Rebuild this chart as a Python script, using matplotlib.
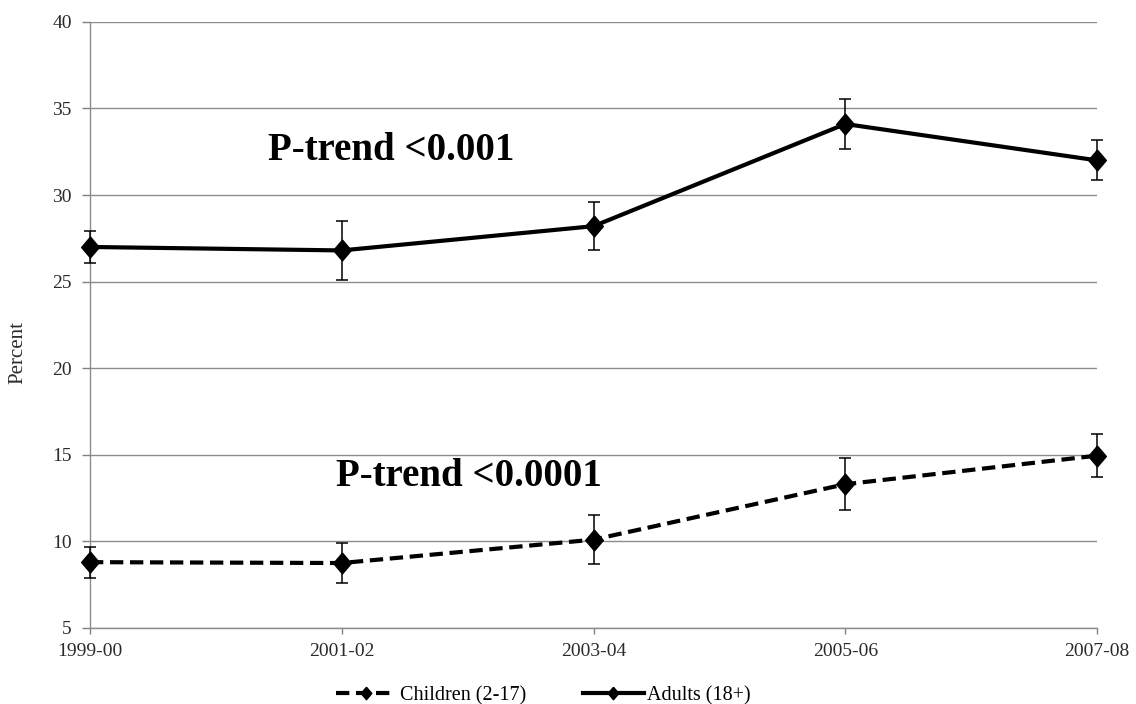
import matplotlib.pyplot as plt
from matplotlib.lines import Line2D
import numpy as np

periodos = ['1999-00', '2001-02', '2003-04', '2005-06', '2007-08']
adultos = [27.0, 26.8, 28.2, 34.1, 32.0]
adultos_err = [0.95, 1.7, 1.4, 1.45, 1.15]
criancas = [8.8, 8.75, 10.1, 13.3, 14.95]
criancas_err = [0.9, 1.15, 1.4, 1.5, 1.25]

plt.rcParams['font.family'] = ['Liberation Serif', 'DejaVu Serif']

fig = plt.figure(figsize=(11.36, 7.04), dpi=100)
ax = fig.add_axes([0.0792, 0.108, 0.8865, 0.861])

x = np.arange(len(periodos))
tracejado = (0, (3.2, 1.6))
# losango um pouco mais alto que largo
losango = [(0, 1), (0.85, 0), (0, -1), (-0.85, 0), (0, 1)]

ax.errorbar(x, criancas, yerr=criancas_err, color='black', linestyle=tracejado,
            linewidth=3, marker=losango, markersize=15, ecolor='black', elinewidth=1.1,
            capsize=4.5, capthick=1.1, clip_on=False, zorder=3)
ax.errorbar(x, adultos, yerr=adultos_err, color='black', linestyle='-',
            linewidth=3, marker=losango, markersize=15, ecolor='black', elinewidth=1.1,
            capsize=4.5, capthick=1.1, clip_on=False, zorder=3)

ax.set_xlim(0, 4)
ax.set_ylim(5, 40)
ax.set_yticks(range(5, 41, 5))
ax.set_xticks(x)
ax.set_xticklabels(periodos)
ax.tick_params(axis='both', labelsize=14, colors='#808080', width=1, labelcolor='#2a2a2a')
ax.tick_params(axis='y', length=6, pad=7)
ax.tick_params(axis='x', length=4, pad=7)
ax.yaxis.grid(True, color='#8c8c8c', linewidth=1)
ax.set_axisbelow(True)
for lado in ['top', 'right']:
    ax.spines[lado].set_visible(False)
for lado in ['left', 'bottom']:
    ax.spines[lado].set_color('#8c8c8c')
    ax.spines[lado].set_linewidth(1)

ax.set_ylabel('Percent', fontsize=15, color='#2a2a2a')
ax.yaxis.set_label_coords(-0.0626, 0.454)

ax.text(0.706, 32.05, 'P-trend <0.001', fontsize=28, fontweight='bold', va='baseline')
ax.text(0.976, 13.22, 'P-trend <0.0001', fontsize=28, fontweight='bold', va='baseline')

# legenda com linhas simples, sem barras de erro
alcas = [Line2D([], [], color='black', linestyle=tracejado, linewidth=3, marker=losango, markersize=9),
         Line2D([], [], color='black', linestyle='-', linewidth=3, marker=losango, markersize=9)]
ax.legend(alcas, ['Children (2-17)', 'Adults (18+)'], loc='center',
          bbox_to_anchor=(0.45, -0.112), ncol=2, frameon=False, fontsize=14.5,
          handlelength=3.0, handletextpad=0.15, columnspacing=2.85, borderpad=0)

plt.savefig('out.png', dpi=100)
